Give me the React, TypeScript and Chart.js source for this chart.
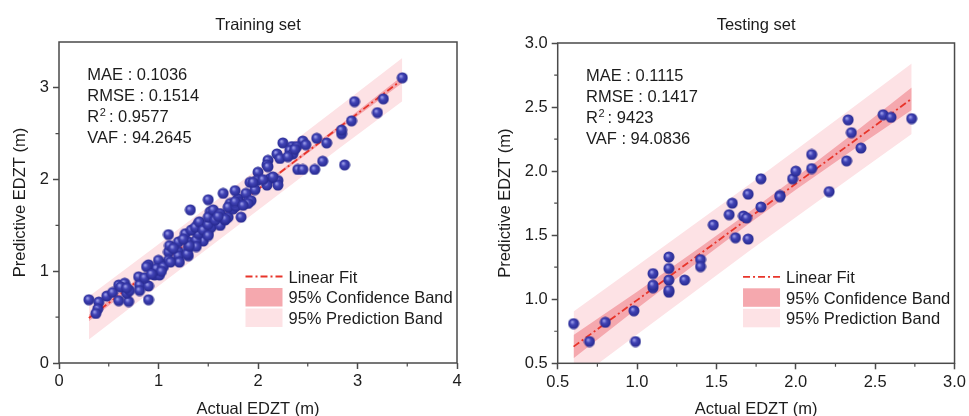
import React, { useEffect, useRef } from "react";
import { Chart, registerables } from "chart.js";
Chart.register(...registerables);

// ---------- Training set data ----------
const trainActual = [
  0.30, 0.40, 0.39, 0.37, 0.48, 0.54, 0.60, 0.66, 0.60, 0.70,
  0.68, 0.71, 0.80, 0.81, 0.81, 0.90, 0.90, 0.90, 0.96, 1.01,
  1.03, 0.98, 0.86, 0.62, 0.68, 1.10, 1.27, 1.35, 1.40, 1.52,
  1.58, 1.83, 1.70, 1.72, 1.80, 1.50, 1.53, 1.45, 1.30, 1.30,
  1.30, 1.20, 1.20, 1.10, 1.10, 1.00, 0.98, 0.88, 1.38, 1.38,
  1.40, 1.62, 1.67, 1.32, 1.50, 1.65, 1.77, 1.05, 1.11, 1.20,
  1.20, 1.21, 1.29, 1.31, 1.33, 1.37, 1.41, 1.45, 1.50, 1.50,
  1.50, 1.55, 1.57, 1.62, 1.67, 1.75, 1.80, 1.15, 1.25, 1.60,
  1.70, 1.78, 2.25, 2.34, 2.45, 2.59, 2.69, 2.65, 2.57, 2.40,
  2.45, 2.87, 2.84, 2.84, 2.19, 2.22, 2.10, 2.09, 2.00, 1.92,
  1.99, 2.12, 2.20, 2.20, 2.09, 1.97, 1.88, 1.90, 1.77, 2.32,
  2.39, 2.35, 2.48, 1.93, 1.90, 1.95, 2.15, 2.30, 2.37, 3.45,
  3.26, 3.20, 2.97, 2.94, 2.05, 1.85, 1.12, 1.03, 0.93, 2.10,
];
const trainPredicted = [
  0.69, 0.665, 0.59, 0.54, 0.73, 0.77, 0.85, 0.87, 0.68, 0.67,
  0.76, 0.79, 0.94, 0.85, 0.79, 0.84, 0.69, 1.07, 0.96, 0.96,
  1.08, 1.01, 0.93, 0.83, 0.82, 1.40, 1.41, 1.45, 1.52, 1.65,
  1.63, 1.59, 1.59, 1.74, 1.79, 1.41, 1.48, 1.33, 1.32, 1.25,
  1.17, 1.21, 1.12, 1.21, 1.12, 1.12, 1.03, 1.05, 1.34, 1.27,
  1.41, 1.50, 1.56, 1.67, 1.78, 1.85, 1.88, 1.05, 1.28, 1.32,
  1.17, 1.10, 1.19, 1.28, 1.45, 1.48, 1.54, 1.45, 1.51, 1.59,
  1.39, 1.67, 1.56, 1.63, 1.57, 1.68, 1.76, 1.25, 1.35, 1.60,
  1.70, 1.71, 2.40, 2.36, 2.42, 2.45, 2.40, 2.20, 2.11, 2.11,
  2.11, 2.16, 2.50, 2.54, 2.28, 2.23, 2.21, 2.16, 2.08, 1.97,
  1.99, 2.01, 1.99, 1.94, 1.94, 1.89, 1.85, 1.76, 1.76, 2.32,
  2.36, 2.28, 2.38, 1.77, 1.74, 1.97, 2.03, 2.25, 2.33, 3.11,
  2.88, 2.73, 2.85, 2.64, 2.00, 1.72, 1.10, 1.00, 0.97, 2.14,
];
// fit line and bands
const trainBandX = [0.30, 1.00, 1.90, 2.80, 3.45];
const trainFitY = [0.49, 1.068, 1.811, 2.555, 3.09];
const trainConfUpper = [0.525, 1.088, 1.825, 2.577, 3.128];
const trainConfLower = [0.455, 1.048, 1.797, 2.533, 3.052];
const trainPredUpper = [0.725, 1.296, 2.037, 2.783, 3.325];
const trainPredLower = [0.255, 0.840, 1.585, 2.327, 2.855];

// ---------- Testing set data ----------
const testActual = [
  0.60, 0.70, 0.80, 0.98, 0.99, 1.10, 1.10, 1.10, 1.20, 1.20,
  1.20, 1.20, 1.20, 1.30, 1.40, 1.40, 1.48, 1.58, 1.60, 1.62,
  1.67, 1.69, 1.70, 1.70, 1.78, 1.78, 1.90, 1.90, 1.98, 2.00,
  2.10, 2.10, 2.21, 2.32, 2.33, 2.35, 2.41, 2.55, 2.60, 2.73,
];
const testPredicted = [
  0.81, 0.67, 0.82, 0.91, 0.67, 1.20, 1.09, 1.11, 1.33, 1.24,
  1.15, 1.055, 1.07, 1.15, 1.31, 1.255, 1.58, 1.66, 1.75, 1.48,
  1.65, 1.635, 1.82, 1.47, 1.94, 1.72, 1.81, 1.80, 1.94, 2.00,
  2.13, 2.02, 1.84, 2.08, 2.40, 2.30, 2.18, 2.44, 2.42, 2.41,
];
const testBandX = [0.60, 1.00, 1.40, 1.70, 2.00, 2.40, 2.73];
const testFitY = [0.63, 0.993, 1.357, 1.630, 1.902, 2.265, 2.565];
const testConfUpper = [0.72, 1.059, 1.407, 1.675, 1.950, 2.330, 2.653];
const testConfLower = [0.54, 0.927, 1.307, 1.585, 1.854, 2.200, 2.477];
const testPredUpper = [0.905, 1.262, 1.621, 1.890, 2.164, 2.533, 2.84];
const testPredLower = [0.355, 0.724, 1.093, 1.370, 1.640, 1.997, 2.29];

const trainStats = ["MAE : 0.1036", "RMSE : 0.1514", "0.9577", "VAF : 94.2645"];
const testStats = ["MAE : 0.1115", "RMSE : 0.1417", "9423", "VAF : 94.0836"];
const legendLabels = ["Linear Fit", "95% Confidence Band", "95% Prediction Band"];

const FONT = '"Liberation Sans", Arial, sans-serif';
const TEXT = "#1c1c1c";
const AXIS = "#4a4a4a";
const RED = "#e8342a";
const CONF = "#f5a8ae";
const PRED = "#fde2e5";

let sphere: HTMLCanvasElement | null = null;
function getSphere() {
  if (sphere) return sphere;
  const c = document.createElement("canvas");
  c.width = 12;
  c.height = 12;
  const g = c.getContext("2d")!;
  const grad = g.createRadialGradient(4.5, 4.3, 0.5, 6, 6, 6);
  grad.addColorStop(0, "#9a9ce8");
  grad.addColorStop(0.35, "#4244b6");
  grad.addColorStop(1, "#22258a");
  g.fillStyle = grad;
  g.beginPath();
  g.arc(6, 6, 5.5, 0, Math.PI * 2);
  g.fill();
  sphere = c;
  return c;
}

const zip = (xs: number[], ys: number[]) => xs.map((x, i) => ({ x, y: ys[i] }));

const overlayPlugin = {
  id: "overlay",
  afterDraw(chart: any, _args: any, o: any) {
    const { ctx, chartArea: ca } = chart;
    const xs = chart.scales.x;
    const ys = chart.scales.y;
    ctx.save();
    // frame
    ctx.strokeStyle = AXIS;
    ctx.lineWidth = 1.5;
    ctx.strokeRect(ca.left, ca.top, ca.right - ca.left, ca.bottom - ca.top);
    // minor ticks
    ctx.lineWidth = 1.2;
    ctx.beginPath();
    o.minorX.forEach((v: number) => {
      const p = xs.getPixelForValue(v);
      ctx.moveTo(p, ca.bottom);
      ctx.lineTo(p, ca.bottom + 3.5);
    });
    o.minorY.forEach((v: number) => {
      const p = ys.getPixelForValue(v);
      ctx.moveTo(ca.left, p);
      ctx.lineTo(ca.left - 3.5, p);
    });
    ctx.stroke();

    ctx.fillStyle = TEXT;
    ctx.font = `16.5px ${FONT}`;
    ctx.textAlign = "center";
    ctx.textBaseline = "alphabetic";
    const cx = (ca.left + ca.right) / 2;
    ctx.fillText(o.title, cx, 29.5);
    ctx.fillText("Actual EDZT (m)", cx, 414);
    ctx.save();
    ctx.translate(o.yTitleX, (ca.top + ca.bottom) / 2);
    ctx.rotate(-Math.PI / 2);
    ctx.textBaseline = "middle";
    ctx.fillText("Predictive EDZT (m)", 0, 0);
    ctx.restore();

    // stats
    ctx.textAlign = "left";
    ctx.font = `16.5px ${FONT}`;
    const sx = ca.left + 28.3;
    const lines = o.stats;
    for (let i = 0; i < 4; i++) {
      const by = ca.top + 38 + 21.1 * i;
      if (i === 2) {
        ctx.fillText("R", sx, by);
        const w = ctx.measureText("R").width;
        ctx.font = `11px ${FONT}`;
        ctx.fillText("2", sx + w + 0.5, by - 6.5);
        const w2 = ctx.measureText("2").width;
        ctx.font = `16.5px ${FONT}`;
        ctx.fillText(" : " + lines[i], sx + w + w2 - 1, by);
      } else {
        ctx.fillText(lines[i], sx, by);
      }
    }

    // legend
    const lx = ca.right - 211.5;
    const ly = ca.bottom - 86.5;
    ctx.strokeStyle = RED;
    ctx.lineWidth = 1.8;
    ctx.setLineDash([7, 3, 2, 3]);
    ctx.beginPath();
    ctx.moveTo(lx, ly);
    ctx.lineTo(lx + 37, ly);
    ctx.stroke();
    ctx.setLineDash([]);
    ctx.fillStyle = CONF;
    ctx.fillRect(lx, ca.bottom - 75, 37, 18.5);
    ctx.fillStyle = PRED;
    ctx.fillRect(lx, ca.bottom - 54.5, 37, 18.5);
    ctx.fillStyle = TEXT;
    ctx.font = `16.5px ${FONT}`;
    const tx = lx + 43;
    ctx.fillText(legendLabels[0], tx, ly + 6);
    ctx.fillText(legendLabels[1], tx, ca.bottom - 65.75 + 6);
    ctx.fillText(legendLabels[2], tx, ca.bottom - 45.25 + 6);
    ctx.restore();
  },
};

type PanelCfg = {
  left: number;
  width: number;
  padTop: number;
  padRight: number;
  yWidth: number;
  xHeight: number;
  xMin: number;
  xMax: number;
  yMin: number;
  yMax: number;
  step: number;
  decimals: number;
  minorX: number[];
  minorY: number[];
  title: string;
  yTitleX: number;
  stats: string[];
  ax: number[];
  py: number[];
  bandX: number[];
  fit: number[];
  cu: number[];
  cl: number[];
  pu: number[];
  pl: number[];
};

function Panel({ cfg }: { cfg: PanelCfg }) {
  const ref = useRef<HTMLCanvasElement>(null);
  useEffect(() => {
    const tickFont = { family: FONT, size: 16.5 };
    const grid = {
      drawOnChartArea: false,
      drawTicks: true,
      tickLength: 6,
      tickColor: AXIS,
      tickWidth: 1.5,
      color: AXIS,
    };
    const band = (data: any[], fill: any, color: string, order: number) => ({
      type: "line" as const,
      data,
      fill,
      backgroundColor: color,
      borderWidth: 0,
      borderColor: "rgba(0,0,0,0)",
      pointRadius: 0,
      tension: 0,
      order,
    });
    const chart = new Chart(ref.current!, {
      type: "scatter",
      data: {
        datasets: [
          band(zip(cfg.bandX, cfg.pu), "+1", PRED, 4),
          band(zip(cfg.bandX, cfg.pl), false, PRED, 4),
          band(zip(cfg.bandX, cfg.cu), "+1", CONF, 3),
          band(zip(cfg.bandX, cfg.cl), false, CONF, 3),
          {
            type: "line" as const,
            data: zip(cfg.bandX, cfg.fit),
            fill: false,
            borderColor: RED,
            borderWidth: 1.8,
            borderDash: [7, 3, 2, 3],
            pointRadius: 0,
            tension: 0,
            order: 1,
          },
          {
            type: "scatter" as const,
            data: zip(cfg.ax, cfg.py),
            pointStyle: getSphere(),
            pointRadius: 6,
            order: 0,
          } as any,
        ],
      },
      options: {
        animation: false,
        responsive: false,
        events: [],
        layout: { padding: { top: cfg.padTop, right: cfg.padRight, left: 0, bottom: 0 } },
        plugins: {
          legend: { display: false },
          tooltip: { enabled: false },
          overlay: {
            minorX: cfg.minorX,
            minorY: cfg.minorY,
            title: cfg.title,
            yTitleX: cfg.yTitleX,
            stats: cfg.stats,
          },
        } as any,
        scales: {
          x: {
            type: "linear",
            min: cfg.xMin,
            max: cfg.xMax,
            grid,
            border: { display: false },
            ticks: {
              stepSize: cfg.step,
              includeBounds: false,
              font: tickFont,
              color: TEXT,
              padding: 3,
              maxRotation: 0,
              callback: (v: any) => Number(v).toFixed(cfg.decimals),
            },
            afterFit: (s: any) => {
              s.height = cfg.xHeight;
            },
          },
          y: {
            type: "linear",
            min: cfg.yMin,
            max: cfg.yMax,
            grid,
            border: { display: false },
            ticks: {
              stepSize: cfg.step,
              includeBounds: false,
              font: tickFont,
              color: TEXT,
              padding: 4,
              callback: (v: any) => Number(v).toFixed(cfg.decimals),
            },
            afterFit: (s: any) => {
              s.width = cfg.yWidth;
            },
          },
        },
      },
      plugins: [overlayPlugin],
    } as any);
    return () => chart.destroy();
  }, []);
  return (
    <div style={{ position: "absolute", left: cfg.left, top: 0, width: cfg.width, height: 416 }}>
      <canvas ref={ref} width={cfg.width} height={416} style={{ display: "block" }} />
    </div>
  );
}

const trainCfg: PanelCfg = {
  left: 0,
  width: 480,
  padTop: 42,
  padRight: 23,
  yWidth: 59,
  xHeight: 53,
  xMin: 0,
  xMax: 4,
  yMin: 0,
  yMax: 3.5,
  step: 1,
  decimals: 0,
  minorX: [0.5, 1.5, 2.5, 3.5],
  minorY: [0.5, 1.5, 2.5],
  title: "Training set",
  yTitleX: 20,
  stats: trainStats,
  ax: trainActual,
  py: trainPredicted,
  bandX: trainBandX,
  fit: trainFitY,
  cu: trainConfUpper,
  cl: trainConfLower,
  pu: trainPredUpper,
  pl: trainPredLower,
};

const testCfg: PanelCfg = {
  left: 480,
  width: 489,
  padTop: 43,
  padRight: 13.3,
  yWidth: 77.7,
  xHeight: 52.7,
  xMin: 0.5,
  xMax: 3.0,
  yMin: 0.5,
  yMax: 3.0,
  step: 0.5,
  decimals: 1,
  minorX: [0.75, 1.25, 1.75, 2.25, 2.75],
  minorY: [0.75, 1.25, 1.75, 2.25, 2.75],
  title: "Testing set",
  yTitleX: 25,
  stats: testStats,
  ax: testActual,
  py: testPredicted,
  bandX: testBandX,
  fit: testFitY,
  cu: testConfUpper,
  cl: testConfLower,
  pu: testPredUpper,
  pl: testPredLower,
};

export default function App() {
  return (
    <div style={{ position: "absolute", left: 0, top: 0, width: 969, height: 416, background: "#ffffff", overflow: "hidden" }}>
      <Panel cfg={trainCfg} />
      <Panel cfg={testCfg} />
    </div>
  );
}
